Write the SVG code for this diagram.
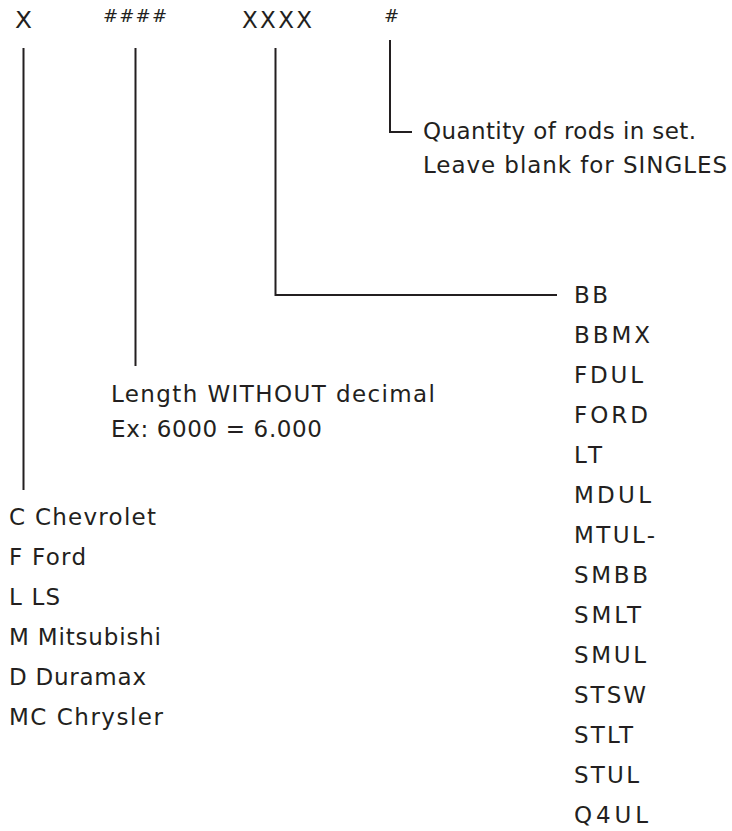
<svg xmlns="http://www.w3.org/2000/svg" width="732" height="831" viewBox="0 0 732 831">
<style>
text{font-family:"DejaVu Sans","Liberation Sans",sans-serif;font-size:23px;fill:#231f20}
.hd{font-size:18px}
.ln{fill:none;stroke:#231f20;stroke-width:2}
</style>
<rect width="732" height="831" fill="#ffffff"/>
<g id="header">
<text x="15" y="28" textLength="17" lengthAdjust="spacingAndGlyphs">X</text>
<text class="hd" x="103" y="22" textLength="64" lengthAdjust="spacing">####</text>
<text x="242" y="28" textLength="70" lengthAdjust="spacing">XXXX</text>
<text class="hd" x="384" y="22">#</text>
</g>
<g id="connectors">
<path class="ln" d="M23.5 48 V490"/>
<path class="ln" d="M135.5 48 V366"/>
<path class="ln" d="M275.5 48 V295 H557"/>
<path class="ln" d="M390 40 V132 H412"/>
</g>
<g id="quantity">
<text x="423" y="139" textLength="273" lengthAdjust="spacing">Quantity of rods in set.</text>
<text x="423" y="173" textLength="304" lengthAdjust="spacing">Leave blank for SINGLES</text>
</g>
<g id="length">
<text x="111" y="402" textLength="324" lengthAdjust="spacing">Length WITHOUT decimal</text>
<text x="111" y="437" textLength="211" lengthAdjust="spacing">Ex: 6000 = 6.000</text>
</g>
<g id="makes">
<text x="9" y="525" textLength="147" lengthAdjust="spacing">C Chevrolet</text>
<text x="9" y="565" textLength="77" lengthAdjust="spacing">F Ford</text>
<text x="9" y="605" textLength="51" lengthAdjust="spacing">L LS</text>
<text x="9" y="645" textLength="152" lengthAdjust="spacing">M Mitsubishi</text>
<text x="9" y="685" textLength="137" lengthAdjust="spacing">D Duramax</text>
<text x="9" y="725" textLength="154" lengthAdjust="spacing">MC Chrysler</text>
</g>
<g id="styles">
<text x="574" y="303" textLength="34" lengthAdjust="spacing">BB</text>
<text x="574" y="343" textLength="76" lengthAdjust="spacing">BBMX</text>
<text x="574" y="383" textLength="69" lengthAdjust="spacing">FDUL</text>
<text x="574" y="423" textLength="74" lengthAdjust="spacing">FORD</text>
<text x="574" y="463" textLength="28" lengthAdjust="spacing">LT</text>
<text x="574" y="503" textLength="77" lengthAdjust="spacing">MDUL</text>
<text x="574" y="543" textLength="81" lengthAdjust="spacing">MTUL-</text>
<text x="574" y="583" textLength="74" lengthAdjust="spacing">SMBB</text>
<text x="574" y="623" textLength="67" lengthAdjust="spacing">SMLT</text>
<text x="574" y="663" textLength="72" lengthAdjust="spacing">SMUL</text>
<text x="574" y="703" textLength="72" lengthAdjust="spacing">STSW</text>
<text x="574" y="743" textLength="59" lengthAdjust="spacing">STLT</text>
<text x="574" y="783" textLength="65" lengthAdjust="spacing">STUL</text>
<text x="574" y="823" textLength="74" lengthAdjust="spacing">Q4UL</text>
</g>
</svg>
